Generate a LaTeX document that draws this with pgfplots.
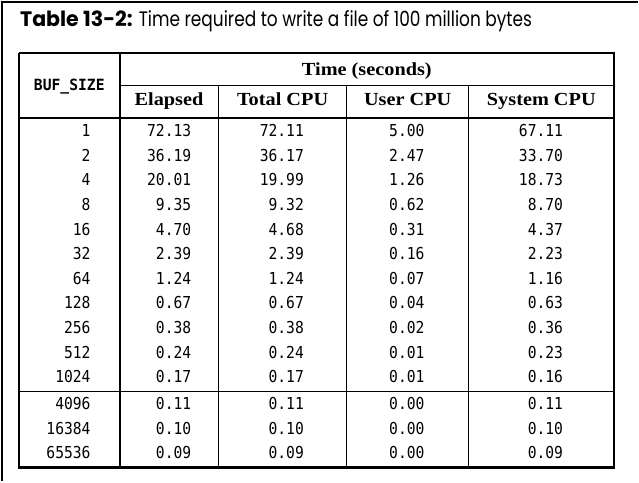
\documentclass[border=0pt]{standalone}
\usepackage{pgfplots}
\usepackage{pgfplotstable}
\usepackage{fontspec}
\pgfplotsset{compat=1.18}
\setmainfont{Liberation Serif}
\newfontfamily\numfont[FakeStretch=0.89]{DejaVu Sans Mono}
\newfontfamily\buffont[FakeStretch=0.95]{DejaVu Sans Mono}
\newfontfamily\titlefont[FakeStretch=0.81]{Poppins}
\newfontfamily\titleB[FakeStretch=0.98]{Poppins}
\newfontfamily\hdfont[FakeStretch=1.1]{Liberation Serif}

\pgfplotstableread{
buf yb elapsed total user system
1 136 72.13 72.11 5.00 67.11
2 160.7 36.19 36.17 2.47 33.70
4 185.4 20.01 19.99 1.26 18.73
8 210.1 9.35 9.32 0.62 8.70
16 234.8 4.70 4.68 0.31 4.37
32 259.5 2.39 2.39 0.16 2.23
64 284.2 1.24 1.24 0.07 1.16
128 308.9 0.67 0.67 0.04 0.63
256 333.6 0.38 0.38 0.02 0.36
512 358.3 0.24 0.24 0.01 0.23
1024 383 0.17 0.17 0.01 0.16
4096 410 0.11 0.11 0.00 0.11
16384 434.7 0.10 0.10 0.00 0.10
65536 459.4 0.09 0.09 0.00 0.09
}\datatable

\begin{document}
\begin{tikzpicture}
\begin{axis}[
  width=639pt, height=482pt, scale only axis,
  xmin=0, xmax=639, ymin=0, ymax=482, y dir=reverse,
  axis lines=none, clip=false,
  every node near coord/.append style={anchor=base east, inner sep=0pt, font=\numfont\fontsize{16.5}{18}\selectfont, text=black},
]
% background
\addplot[fill=white, draw=none] coordinates {(0,0) (639,0) (639,482) (0,482)} \closedcycle;
% page frame
\addplot[black, line width=2pt] coordinates {(0,1) (639,1)};
\addplot[black, line width=2pt] coordinates {(1,0) (1,482)};
% table lines
\addplot[black, line width=2.2pt] coordinates {(18,52) (615,52) (615,468) (18,468) (18,52)};
\addplot[black, line width=1.2pt] coordinates {(119,85) (615,85)};
\addplot[black, line width=2pt] coordinates {(18,117) (615,117)};
\addplot[black, line width=2pt] coordinates {(119,52) (119,468)};
\addplot[black, line width=1.1pt] coordinates {(218,85) (218,468)};
\addplot[black, line width=1.1pt] coordinates {(347,85) (347,468)};
\addplot[black, line width=1.1pt] coordinates {(469,85) (469,468)};
\addplot[black, line width=1.3pt] coordinates {(18,392) (615,392)};
% cell values
\addplot[draw=none, mark=none, nodes near coords, point meta=explicit symbolic] table[x expr=90, y=yb, meta=buf] {\datatable};
\addplot[draw=none, mark=none, nodes near coords, point meta=explicit symbolic] table[x expr=191, y=yb, meta=elapsed] {\datatable};
\addplot[draw=none, mark=none, nodes near coords, point meta=explicit symbolic] table[x expr=304, y=yb, meta=total] {\datatable};
\addplot[draw=none, mark=none, nodes near coords, point meta=explicit symbolic] table[x expr=425, y=yb, meta=user] {\datatable};
\addplot[draw=none, mark=none, nodes near coords, point meta=explicit symbolic] table[x expr=564, y=yb, meta=system] {\datatable};
% title and headers
\node[anchor=base west, inner sep=0pt, font=\titlefont\fontsize{21}{24}\selectfont] at (axis cs:19,26) {{\titleB\bfseries Table 13-2:} Time required to write a file of 100 million bytes};
\node[anchor=base, inner sep=0pt, font=\buffont\bfseries\fontsize{15.5}{18}\selectfont] at (axis cs:68.5,90) {BUF\_SIZE};
\node[anchor=base, inner sep=0pt, font=\hdfont\bfseries\fontsize{18.5}{20}\selectfont] at (axis cs:367,74.5) {Time (seconds)};
\node[anchor=base, inner sep=0pt, font=\hdfont\bfseries\fontsize{18.5}{20}\selectfont] at (axis cs:168.5,105) {Elapsed};
\node[anchor=base, inner sep=0pt, font=\hdfont\bfseries\fontsize{18.5}{20}\selectfont] at (axis cs:282.5,105) {Total CPU};
\node[anchor=base, inner sep=0pt, font=\hdfont\bfseries\fontsize{18.5}{20}\selectfont] at (axis cs:408,105) {User CPU};
\node[anchor=base, inner sep=0pt, font=\hdfont\bfseries\fontsize{18.5}{20}\selectfont] at (axis cs:542,105) {System CPU};
\end{axis}
\end{tikzpicture}
\end{document}
